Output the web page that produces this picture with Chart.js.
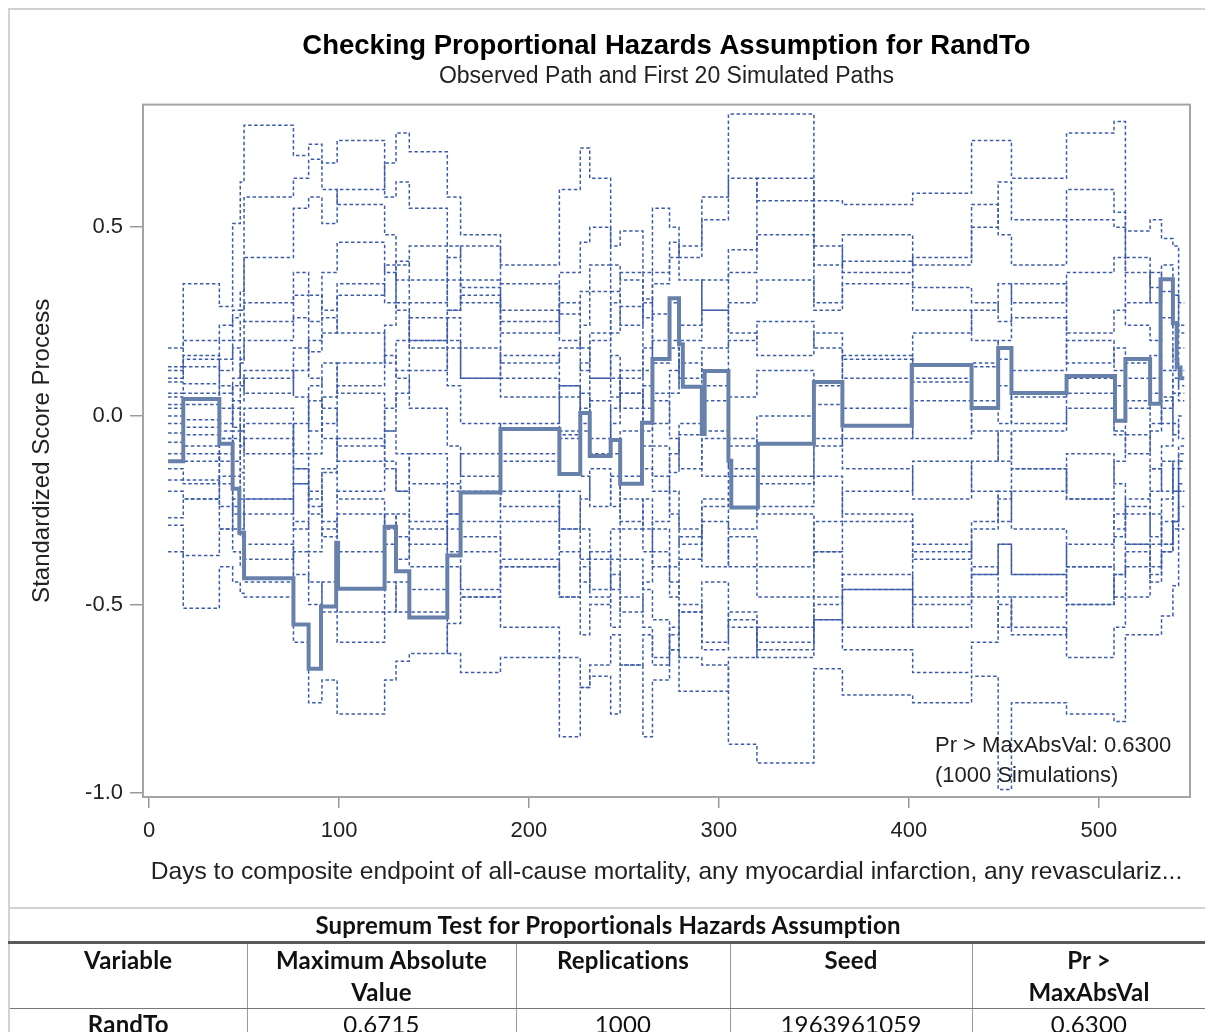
<!DOCTYPE html>
<html>
<head>
<meta charset="utf-8">
<title>Checking Proportional Hazards Assumption for RandTo</title>
<script src="https://cdn.jsdelivr.net/npm/chart.js@4.4.1/dist/chart.umd.min.js"></script>
<style>
  body { margin: 0; background: #fff; }
  #page { position: relative; width: 1205px; height: 1032px; overflow: hidden; }
  #chartBox { position: absolute; left: 0; top: 0; width: 1205px; height: 905px; }
  #outline { position: absolute; left: 8px; top: 8px; width: 1210px; height: 899px;
             border-left: 2px solid #d2d2d2; border-top: 2px solid #d2d2d2; pointer-events: none; }
  #inset { position: absolute; left: 935px; top: 730px; font: 22px "Liberation Sans", Arial, sans-serif;
           line-height: 30px; color: #222; }
  table { position: absolute; left: 8px; top: 907px; width: 1197px; border-collapse: collapse;
          table-layout: fixed; font-family: Lato, "Liberation Sans", sans-serif; font-size: 24px;
          letter-spacing: 0.2px; color: #111; }
  td, th { padding: 0; text-align: center; }
  .ttl td { border-top: 2px solid #d2d2d2; border-left: 2px solid #d2d2d2; border-bottom: 3px solid #5a5a5a;
            height: 32px; line-height: 32px; font-weight: bold; }
  .hdr th { vertical-align: top; line-height: 32px; height: 64px; border-right: 1.5px solid #9a9a9a;
            border-bottom: 1.5px solid #777; font-weight: bold; }
  .row td, .row th { line-height: 30px; border-right: 1.5px solid #9a9a9a; font-weight: normal; }
  .row th { font-weight: bold; }
  .hdr th:first-child, .row th { border-left: 2px solid #d2d2d2; }
</style>
</head>
<body>
<div id="page">
  <div id="chartBox"><canvas id="myChart" width="1205" height="905"></canvas></div>
  <div id="outline"></div>
  <div id="inset">Pr &gt; MaxAbsVal: 0.6300<br>(1000 Simulations)</div>
  <table>
    <colgroup><col style="width:238px"><col style="width:269px"><col style="width:214px"><col style="width:242px"><col style="width:234px"></colgroup>
    <tr class="ttl"><td colspan="5">Supremum Test for Proportionals Hazards Assumption</td></tr>
    <tr class="hdr"><th>Variable</th><th>Maximum Absolute<br>Value</th><th>Replications</th><th>Seed</th><th>Pr &gt;<br>MaxAbsVal</th></tr>
    <tr class="row"><th>RandTo</th><td>0.6715</td><td>1000</td><td>1963961059</td><td>0.6300</td></tr>
  </table>
</div>
<script>
const xTicks = [0, 100, 200, 300, 400, 500];
const yTicks = [-1, -0.5, 0, 0.5];
const yTickLabels = ["-1.0", "-0.5", "0.0", "0.5"];

// observed score process (thick line)
const obsDays = [10, 18, 37, 44, 47.5, 50, 76, 84, 90.5, 98.5, 99.5, 124, 130, 137, 157, 164,
  185, 216, 227, 232, 243, 248, 259.5, 265, 274, 279, 281, 291, 292.5, 305, 306.5, 320.5,
  350, 365, 401.5, 433, 447, 454, 483, 508.5, 514, 527, 532.5, 539, 541, 543, 545];
const obsScore = [-0.12, 0.045, -0.074, -0.193, -0.31, -0.43, -0.553, -0.67, -0.505, -0.336, -0.458,
  -0.294, -0.412, -0.534, -0.37, -0.203, -0.035, -0.154, 0.008, -0.106, -0.064, -0.18, -0.018,
  0.151, 0.312, 0.19, 0.077, -0.048, 0.119, -0.119, -0.243, -0.074, 0.09, -0.026, 0.135, 0.021,
  0.18, 0.061, 0.106, -0.013, 0.151, 0.032, 0.362, 0.246, 0.128, 0.1, 0.1];

// simulated paths, all stepping at the same event days
const simDays = [10, 18, 37, 44, 48, 50, 76, 84, 91, 99, 124, 130, 137, 157, 164, 185, 216, 227,
  232, 243, 248, 260, 265, 274, 279, 291, 305, 320, 350, 365, 402, 433, 447, 454, 483, 508, 514,
  527, 533, 539, 542, 545];
const sim01 = [0.18, 0.35, 0.29, 0.51, 0.62, 0.77, 0.69, 0.72, 0.67, 0.73, 0.58, 0.62, 0.55, 0.45, 0.34, 0.22, 0.30, 0.18, 0.10, 0.05, 0.12, 0.02, -0.08, -0.15, -0.05, 0.08, 0.20, 0.25, 0.18, 0.10, 0.22, 0.28, 0.35, 0.30, 0.38, 0.42, 0.24, 0.20, 0.26, 0.15, 0.10];
const sim02 = [0.13, 0.20, 0.24, 0.28, 0.33, 0.42, 0.55, 0.58, 0.51, 0.60, 0.67, 0.75, 0.70, 0.58, 0.48, 0.40, 0.60, 0.71, 0.63, 0.45, 0.49, 0.38, 0.55, 0.50, 0.42, 0.58, 0.63, 0.57, 0.30, 0.35, 0.28, 0.20, 0.15, 0.05, 0.10, -0.05, 0.02, 0.10, 0.05, 0.12, 0.08];
const sim03 = [0.10, 0.16, 0.12, 0.20, 0.25, 0.30, 0.38, 0.32, 0.28, 0.35, 0.30, 0.41, 0.36, 0.28, 0.32, 0.25, 0.38, 0.46, 0.50, 0.40, 0.36, 0.26, 0.35, 0.42, 0.45, 0.52, 0.80, 0.80, 0.57, 0.56, 0.59, 0.73, 0.73, 0.63, 0.75, 0.78, 0.49, 0.52, 0.47, 0.45, 0.30];
const sim04 = [0.12, 0.15, 0.20, 0.26, 0.28, 0.58, 0.63, 0.68, 0.60, 0.56, 0.48, 0.40, 0.45, 0.36, 0.30, 0.14, 0.18, 0.24, 0.33, 0.22, 0.29, 0.12, 0.20, 0.30, 0.24, 0.36, 0.44, 0.63, 0.45, 0.38, 0.42, 0.56, 0.48, 0.40, 0.52, 0.50, 0.38, 0.30, 0.36, 0.32, 0.22];
const sim05 = [0.09, 0.13, 0.06, 0.10, 0.14, 0.20, 0.26, 0.17, 0.22, 0.32, 0.40, 0.36, 0.30, 0.42, 0.45, 0.35, 0.27, 0.33, 0.40, 0.33, 0.24, 0.31, 0.14, 0.20, 0.10, 0.18, 0.30, 0.36, 0.28, 0.41, 0.34, 0.30, 0.25, 0.35, 0.22, 0.28, 0.30, 0.38, 0.33, 0.24, 0.18];
const sim06 = [0.06, 0.085, 0.15, 0.18, 0.10, 0.06, 0.12, 0.20, 0.26, 0.22, 0.14, 0.20, 0.26, 0.18, 0.10, 0.05, -0.05, 0.02, 0.10, 0.16, 0.06, -0.02, 0.06, 0.12, 0.20, 0.28, 0.22, 0.16, 0.22, 0.15, 0.09, 0.13, 0.20, 0.26, 0.14, 0.18, 0.10, 0.16, 0.12, 0.18, 0.12];
const sim07 = [0.05, 0.06, -0.02, 0.04, 0.08, 0.12, 0.05, -0.04, 0.05, 0.14, 0.24, 0.30, 0.18, 0.08, -0.02, -0.10, -0.04, 0.06, -0.06, 0.02, 0.10, 0.18, 0.27, 0.18, 0.08, -0.04, 0.05, 0.12, 0.03, -0.06, 0.04, 0.14, 0.08, -0.02, 0.06, -0.04, -0.10, -0.02, 0.04, -0.05, 0.0];
const sim08 = [0.03, 0.03, 0.08, -0.03, -0.08, -0.02, -0.10, 0.04, -0.06, -0.12, -0.04, 0.06, 0.12, 0.20, 0.10, 0.16, 0.08, -0.04, 0.04, -0.10, -0.04, -0.14, -0.20, -0.10, -0.02, -0.16, -0.08, 0.00, 0.08, 0.16, 0.10, -0.04, -0.12, -0.04, 0.02, 0.08, 0.14, 0.06, -0.02, 0.06, 0.04];
const sim09 = [0.02, -0.01, -0.06, -0.12, -0.04, 0.02, -0.18, -0.26, -0.15, -0.06, -0.14, -0.20, -0.10, -0.18, -0.28, -0.20, -0.30, -0.22, -0.14, -0.24, -0.16, -0.08, -0.16, -0.26, -0.34, -0.22, -0.30, -0.18, -0.06, -0.14, -0.22, -0.12, -0.04, -0.14, -0.22, -0.12, -0.05, -0.14, -0.08, -0.02, -0.06];
const sim10 = [0.0, -0.03, 0.02, 0.08, 0.15, 0.25, 0.32, 0.25, 0.38, 0.46, 0.38, 0.28, 0.20, 0.26, 0.18, 0.10, 0.05, 0.14, 0.22, 0.10, 0.02, 0.08, -0.02, 0.06, 0.14, 0.04, -0.06, -0.16, -0.08, 0.02, -0.06, 0.04, -0.02, 0.12, 0.20, 0.12, 0.04, -0.04, 0.02, 0.10, 0.06];
const sim11 = [-0.02, -0.05, -0.12, -0.06, -0.15, -0.22, -0.30, -0.20, -0.28, -0.36, -0.26, -0.32, -0.40, -0.30, -0.36, -0.28, -0.20, -0.30, -0.38, -0.30, -0.22, -0.30, -0.40, -0.48, -0.38, -0.28, -0.40, -0.48, -0.36, -0.46, -0.36, -0.28, -0.20, -0.30, -0.40, -0.32, -0.24, -0.32, -0.22, -0.14, -0.10];
const sim12 = [-0.045, -0.08, -0.04, 0.02, -0.06, -0.10, -0.02, 0.08, 0.14, 0.06, -0.04, -0.10, -0.18, -0.26, -0.20, -0.12, -0.06, -0.16, -0.24, -0.16, -0.28, -0.36, -0.28, -0.20, -0.30, -0.40, -0.32, -0.40, -0.28, -0.20, -0.12, -0.20, -0.28, -0.20, -0.10, -0.18, -0.26, -0.20, -0.12, -0.20, -0.12];
const sim13 = [-0.07, -0.10, -0.18, -0.26, -0.32, -0.38, -0.28, -0.36, -0.30, -0.20, -0.12, -0.20, -0.28, -0.36, -0.46, -0.38, -0.48, -0.58, -0.50, -0.42, -0.52, -0.44, -0.36, -0.44, -0.52, -0.60, -0.52, -0.60, -0.50, -0.42, -0.50, -0.42, -0.34, -0.42, -0.34, -0.26, -0.34, -0.26, -0.34, -0.28, -0.20];
const sim14 = [-0.10, -0.12, -0.06, -0.16, -0.22, -0.26, -0.18, -0.10, -0.02, 0.08, 0.16, 0.10, 0.02, -0.08, -0.16, -0.24, -0.36, -0.44, -0.36, -0.46, -0.38, -0.46, -0.54, -0.62, -0.52, -0.44, -0.56, -0.64, -0.54, -0.62, -0.68, -0.60, -0.50, -0.58, -0.50, -0.42, -0.36, -0.44, -0.36, -0.30, -0.24];
const sim15 = [-0.14, -0.17, -0.24, -0.30, -0.26, -0.34, -0.42, -0.50, -0.44, -0.52, -0.44, -0.52, -0.46, -0.40, -0.48, -0.56, -0.64, -0.72, -0.66, -0.58, -0.66, -0.58, -0.66, -0.58, -0.50, -0.62, -0.54, -0.62, -0.54, -0.46, -0.56, -0.48, -0.56, -0.48, -0.40, -0.48, -0.40, -0.34, -0.28, -0.20, -0.14];
const sim16 = [-0.36, -0.51, -0.40, -0.44, -0.47, -0.48, -0.60, -0.76, -0.70, -0.79, -0.70, -0.65, -0.63, -0.55, -0.48, -0.40, -0.30, -0.38, -0.46, -0.38, -0.30, -0.22, -0.30, -0.40, -0.32, -0.24, -0.16, -0.26, -0.36, -0.28, -0.38, -0.30, -0.22, -0.14, -0.22, -0.30, -0.22, -0.14, -0.20, -0.12, -0.08];
const sim17 = [-0.29, -0.37, -0.30, -0.36, -0.40, -0.44, -0.36, -0.44, -0.52, -0.60, -0.52, -0.44, -0.52, -0.63, -0.68, -0.64, -0.85, -0.72, -0.69, -0.79, -0.66, -0.85, -0.70, -0.62, -0.73, -0.73, -0.64, -0.56, -0.48, -0.56, -0.48, -0.40, -0.48, -0.56, -0.64, -0.56, -0.48, -0.40, -0.34, -0.28, -0.20];
const sim18 = [-0.27, -0.22, -0.16, -0.24, -0.30, -0.22, -0.14, -0.24, -0.32, -0.26, -0.34, -0.26, -0.34, -0.26, -0.32, -0.40, -0.48, -0.40, -0.48, -0.56, -0.48, -0.56, -0.64, -0.56, -0.64, -0.66, -0.87, -0.92, -0.67, -0.74, -0.76, -0.69, -0.99, -0.76, -0.79, -0.81, -0.58, -0.58, -0.53, -0.45, -0.30];
const sim19 = [-0.17, -0.18, -0.10, -0.04, 0.04, 0.10, 0.18, 0.10, 0.02, -0.08, 0.02, 0.12, 0.20, 0.28, 0.36, 0.28, 0.20, 0.12, 0.20, 0.30, 0.38, 0.30, 0.38, 0.46, 0.36, 0.28, 0.38, 0.48, 0.40, 0.48, 0.40, 0.50, 0.62, 0.52, 0.60, 0.54, 0.42, 0.34, 0.40, 0.32, 0.24];
const sim20 = [-0.2, -0.22, -0.30, -0.22, -0.14, -0.06, -0.14, -0.22, -0.14, -0.22, -0.30, -0.38, -0.30, -0.20, -0.10, -0.02, 0.08, -0.02, -0.10, -0.02, 0.06, -0.04, 0.04, -0.06, -0.14, -0.06, -0.14, -0.24, -0.16, -0.26, -0.34, -0.42, -0.34, -0.42, -0.50, -0.42, -0.34, -0.42, -0.36, -0.28, -0.18];
const simPaths = [sim01, sim02, sim03, sim04, sim05, sim06, sim07, sim08, sim09, sim10,
  sim11, sim12, sim13, sim14, sim15, sim16, sim17, sim18, sim19, sim20];

const ctx = document.getElementById("myChart");
Chart.defaults.font.family = '"Liberation Sans", Arial, sans-serif';
Chart.defaults.color = "#222";

// box round the plot area
const framePlugin = {
  id: "frame",
  afterDatasetsDraw(chart) {
    const a = chart.chartArea;
    const c = chart.ctx;
    c.save();
    c.strokeStyle = "#a4a4a4";
    c.lineWidth = 2;
    c.strokeRect(a.left, a.top, a.right - a.left, a.bottom - a.top);
    c.restore();
  },
};

const datasets = [
  {
    label: "Observed",
    data: obsDays.map((d, i) => ({ x: d, y: obsScore[i] })),
    borderColor: "#6881ab",
    borderWidth: 4,
    stepped: "before",
    pointRadius: 0,
  },
];
simPaths.forEach((vals, k) => {
  datasets.push({
    label: "Sim " + (k + 1),
    data: simDays.map((d, i) => ({ x: d, y: vals[Math.min(i, vals.length - 1)] })),
    borderColor: "#3c5ca9",
    borderWidth: 1.5,
    borderDash: [3.5, 2.5],
    stepped: "before",
    pointRadius: 0,
  });
});

new Chart(ctx, {
  type: "line",
  data: { datasets: datasets },
  plugins: [framePlugin],
  options: {
    responsive: false,
    animation: false,
    events: [],
    layout: { padding: { left: 0, right: 15, top: 0, bottom: 0 } },
    plugins: {
      legend: { display: false },
      tooltip: { enabled: false },
      title: {
        display: true,
        fullSize: false,
        text: "Checking Proportional Hazards Assumption for RandTo",
        color: "#000",
        font: { size: 27.5, weight: "bold" },
        padding: { top: 30, bottom: 0 },
      },
      subtitle: {
        display: true,
        fullSize: false,
        text: "Observed Path and First 20 Simulated Paths",
        color: "#222",
        font: { size: 23 },
        padding: { top: 0, bottom: 14 },
      },
    },
    scales: {
      x: {
        type: "linear",
        min: -3.2,
        max: 548,
        afterBuildTicks: (s) => { s.ticks = xTicks.map((v) => ({ value: v })); },
        afterFit: (s) => { s.height = 108; },
        ticks: { font: { size: 22 }, padding: 10, maxRotation: 0, autoSkip: false },
        grid: { drawOnChartArea: false, tickLength: 11, color: "#9a9a9a", lineWidth: 1.5 },
        border: { display: false },
        title: {
          display: true,
          text: "Days to composite endpoint of all-cause mortality, any myocardial infarction, any revasculariz...",
          font: { size: 24.6 },
          padding: { top: 0, bottom: 18 },
        },
      },
      y: {
        type: "linear",
        min: -1.01,
        max: 0.825,
        afterBuildTicks: (s) => { s.ticks = yTicks.map((v) => ({ value: v })); },
        afterFit: (s) => { s.width = 143; },
        ticks: {
          font: { size: 22 },
          padding: 7,
          callback: (v) => yTickLabels[yTicks.indexOf(v)],
        },
        grid: { drawOnChartArea: false, tickLength: 13, color: "#9a9a9a", lineWidth: 1.5 },
        border: { display: false },
        title: {
          display: true,
          text: "Standardized Score Process",
          font: { size: 24 },
          padding: { top: 28, bottom: 0 },
        },
      },
    },
  },
});
</script>
</body>
</html>
